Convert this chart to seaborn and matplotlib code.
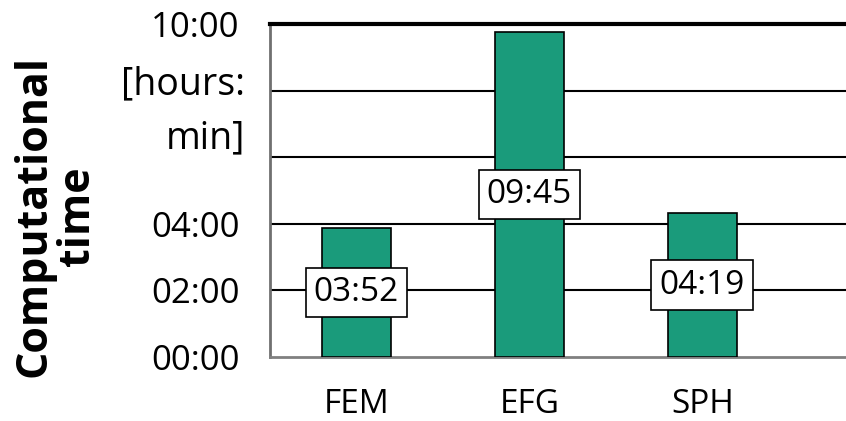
import matplotlib
matplotlib.use("Agg")
import matplotlib.pyplot as plt
import seaborn as sns
import pandas as pd
import numpy as np

categories = ["FEM", "EFG", "SPH"]
minutes = [232, 585, 259]          # 03:52, 09:45, 04:19
value_labels = ["03:52", "09:45", "04:19"]
ytick_values = [0, 2, 4, 6, 8, 10]
ytick_labels = ["00:00", "02:00", "04:00", "", "", "10:00"]

hours = [m / 60 for m in minutes]
df = pd.DataFrame({"method": categories, "hours": hours})

sns.set_theme(style="white")
plt.rcParams["font.family"] = ["Open Sans", "DejaVu Sans"]
plt.rcParams["text.color"] = "black"
plt.rcParams["xtick.color"] = "black"
plt.rcParams["ytick.color"] = "black"

fig = plt.figure(figsize=(8.46, 4.21), dpi=100)
ax = fig.add_axes([270 / 846, 1 - 357 / 421, 1 - 270 / 846, (357 - 24) / 421])

sns.barplot(data=df, x="method", y="hours", color="#1a9b7b", saturation=1,
            width=0.4, edgecolor="black", linewidth=1.2, ax=ax, zorder=3)

ax.set_ylim(0, 10)
ax.set_xlim(-0.5, 2.83)
ax.set_yticks(ytick_values)
ax.set_yticklabels(ytick_labels)
for y in ytick_values[1:-1]:
    ax.axhline(y, color="black", lw=1.5, zorder=1)

ax.set_xticks(range(len(categories)))
ax.set_xticklabels(categories)
ax.set_xticks([-0.5, 0.5, 1.5], minor=True)
ax.tick_params(axis="x", which="major", length=0, labelsize=24, pad=22,
               labelcolor="black")
ax.tick_params(axis="x", which="minor", length=9, width=1.5, color="#808080",
               direction="out")
ax.tick_params(axis="y", length=12, width=1.5, color="#808080", direction="out",
               labelsize=25, pad=10, labelcolor="black")
ax.set_xlabel("")
ax.set_ylabel("")

ax.spines["right"].set_visible(False)
ax.spines["top"].set_color("black")
ax.spines["top"].set_linewidth(3)
ax.spines["left"].set_color("#707070")
ax.spines["left"].set_linewidth(2)
ax.spines["bottom"].set_color("#808080")
ax.spines["bottom"].set_linewidth(2)

for i, (h, lab) in enumerate(zip(hours, value_labels)):
    ax.text(i, h / 2, lab, ha="center", va="center", fontsize=24, zorder=5,
            color="black",
            bbox=dict(boxstyle="square,pad=0.25", fc="white", ec="black", lw=1.2))

fig.text(245 / 846, 1 - 111 / 421, "[hours:\nmin]", ha="right", va="center",
         fontsize=27, linespacing=1.55, multialignment="right", color="black")
fig.text(56 / 846, 1 - 216 / 421, "Computational\ntime", rotation=90,
         ha="center", va="center", fontsize=31, fontweight="bold",
         multialignment="center", linespacing=1.0, color="black")

fig.savefig("out.png", dpi=100)
